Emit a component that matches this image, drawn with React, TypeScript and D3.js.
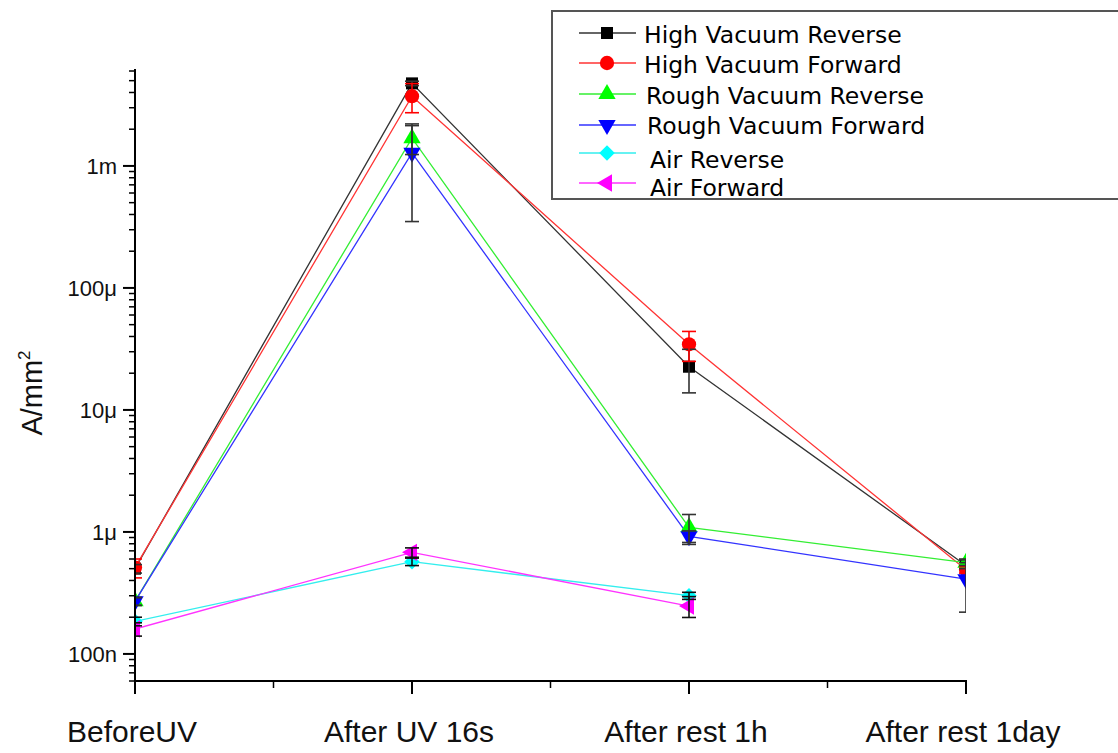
import React from 'react';
import * as d3 from 'd3';

const categories = ['BeforeUV', 'After UV 16s', 'After rest 1h', 'After rest 1day'];
const yTickValues = [1e-7, 1e-6, 1e-5, 1e-4, 1e-3];
const yTickLabels = ['100n', '1μ', '10μ', '100μ', '1m'];

const seriesNames = [
  'High Vacuum Reverse',
  'High Vacuum Forward',
  'Rough Vacuum Reverse',
  'Rough Vacuum Forward',
  'Air Reverse',
  'Air Forward',
];

const hvReverse = [5.0e-7, 4.75e-3, 2.26e-5, 5.3e-7];
const hvReverseErr = [0.4e-7, 0.2e-3, 0.88e-5, 0.3e-7];
const hvForward = [5.1e-7, 3.73e-3, 3.45e-5, 4.9e-7];
const hvForwardErr = [0.9e-7, 1.0e-3, 0.95e-5, 0.3e-7];
const rvReverse = [2.7e-7, 1.69e-3, 1.09e-6, 5.6e-7];
const rvReverseErr = [0.2e-7, 0.45e-3, 0.3e-6, 0.3e-7];
const rvForward = [2.7e-7, 1.28e-3, 9.2e-7, 4.1e-7];
const rvForwardErr = [0.2e-7, 0.93e-3, 0.1e-6, 1.9e-7];
const airReverse = [1.85e-7, 5.7e-7, 3.0e-7];
const airReverseErr = [0.15e-7, 0.4e-7, 0.2e-7];
const airForward = [1.6e-7, 6.8e-7, 2.47e-7];
const airForwardErr = [0.2e-7, 0.6e-7, 0.48e-7];

const seriesValues = [hvReverse, hvForward, rvReverse, rvForward, airReverse, airForward];
const seriesErrors = [hvReverseErr, hvForwardErr, rvReverseErr, rvForwardErr, airReverseErr, airForwardErr];
const seriesColors = ['#000000', '#ff0000', '#00ff00', '#0000ff', '#00ffff', '#ff00ff'];
const lineColors = ['#333333', '#ff3333', '#33ee33', '#3333ff', '#33eeee', '#ff33ff'];
const errColors = ['#333333', '#ff0000', '#333333', '#333333', '#111111', '#111111'];
const symbolKinds = ['square', 'circle', 'up', 'down', 'diamond', 'left'];

const W = 1118;
const H = 753;
const X0 = 135;
const X1 = 966;
const Y0 = 681;
const Y1 = 71;

const x = d3.scalePoint<string>().domain(categories).range([X0, X1]);
const y = d3.scaleLog().domain([6e-8, 6e-3]).range([Y0, Y1]);

function symbolPath(kind: string): { d: string; rot: number } {
  switch (kind) {
    case 'square':
      return { d: d3.symbol().type(d3.symbolSquare).size(144)() as string, rot: 0 };
    case 'circle':
      return { d: d3.symbol().type(d3.symbolCircle).size(160)() as string, rot: 0 };
    case 'up':
      return { d: d3.symbol().type(d3.symbolTriangle).size(130)() as string, rot: 0 };
    case 'down':
      return { d: d3.symbol().type(d3.symbolTriangle).size(130)() as string, rot: 180 };
    case 'diamond':
      return { d: d3.symbol().type(d3.symbolSquare).size(120)() as string, rot: 45 };
    case 'left':
    default:
      return { d: d3.symbol().type(d3.symbolTriangle).size(130)() as string, rot: -90 };
  }
}

function Marker({ kind, cx, cy, color }: { kind: string; cx: number; cy: number; color: string }) {
  const s = symbolPath(kind);
  return <path d={s.d} transform={`translate(${cx},${cy}) rotate(${s.rot})`} fill={color} stroke="none" />;
}

export default function App() {
  const line = d3
    .line<number>()
    .x((_, i) => x(categories[i]) as number)
    .y((v) => y(v));

  const minorY: number[] = [];
  for (let e = -8; e <= -3; e++) {
    for (let m = 2; m <= 9; m++) {
      const v = m * Math.pow(10, e);
      if (v >= 6e-8 && v <= 6e-3) minorY.push(v);
    }
  }
  const minorX = categories.slice(1).map((c, i) => ((x(categories[i]) as number) + (x(c) as number)) / 2);

  const legendRows = [33, 63, 94, 125, 153, 183];
  const legendBaselines = [43, 73, 104, 134, 168, 196];
  const legendTextX = [644, 644, 646, 647, 650, 650];

  return (
    <svg width={W} height={H} style={{ position: 'absolute', left: 0, top: 0, background: '#fff' }}>
      <defs>
        <clipPath id="plotclip">
          <rect x={X0} y={0} width={X1 - X0} height={H} />
        </clipPath>
      </defs>

      <g clipPath="url(#plotclip)">
        {seriesValues.map((vals, si) => (
          <path key={'l' + si} d={line(vals) as string} fill="none" stroke={lineColors[si]} strokeWidth={1.3} />
        ))}
        {seriesValues.map((vals, si) =>
          vals.map((v, i) => (
            <Marker key={'m' + si + '-' + i} kind={symbolKinds[si]} cx={x(categories[i]) as number} cy={y(v)} color={seriesColors[si]} />
          ))
        )}
        {seriesValues.map((vals, si) =>
          vals.map((v, i) => {
            const e = seriesErrors[si][i];
            const cx = x(categories[i]) as number;
            const yt = y(v + e);
            const yb = y(Math.max(v - e, 6.1e-8));
            return (
              <g key={'e' + si + '-' + i} stroke={errColors[si]} strokeWidth={1.6}>
                <line x1={cx} x2={cx} y1={yt} y2={yb} />
                <line x1={cx - 7} x2={cx + 7} y1={yt} y2={yt} />
                <line x1={cx - 7} x2={cx + 7} y1={yb} y2={yb} />
              </g>
            );
          })
        )}
      </g>

      <line x1={X0} x2={X0} y1={Y1 - 2} y2={Y0 + 1} stroke="#000" strokeWidth={2} />
      {minorY.map((v, i) => (
        <line key={'my' + i} x1={X0 - 6} x2={X0} y1={y(v)} y2={y(v)} stroke="#000" strokeWidth={1.5} />
      ))}
      {yTickValues.map((v, i) => (
        <g key={'ty' + i}>
          <line x1={X0 - 12} x2={X0} y1={y(v)} y2={y(v)} stroke="#000" strokeWidth={2} />
          <text x={117} y={y(v)} dy="0.36em" textAnchor="end" fontFamily="Liberation Sans, Arial, sans-serif" fontSize={22} fill="#111">
            {yTickLabels[i]}
          </text>
        </g>
      ))}
      <text
        transform="translate(42,393) rotate(-90)"
        textAnchor="middle"
        fontFamily="Liberation Sans, Arial, sans-serif"
        fontSize={29}
        fill="#111"
      >
        A/mm<tspan dy={-12} fontSize={17}>2</tspan>
      </text>

      <line x1={X0 - 1} x2={X1 + 1} y1={Y0} y2={Y0} stroke="#000" strokeWidth={2} />
      {categories.map((c, i) => (
        <g key={'tx' + i}>
          <line x1={x(c) as number} x2={x(c) as number} y1={Y0} y2={Y0 + 13} stroke="#000" strokeWidth={2} />
          <text x={(x(c) as number) - 3} y={742} textAnchor="middle" fontFamily="Liberation Sans, Arial, sans-serif" fontSize={30} fill="#111">
            {c}
          </text>
        </g>
      ))}
      {minorX.map((mx, i) => (
        <line key={'mx' + i} x1={mx} x2={mx} y1={Y0} y2={Y0 + 7} stroke="#000" strokeWidth={1.5} />
      ))}

      <rect x={552} y={11} width={600} height={188} fill="#fff" stroke="#555" strokeWidth={2} />
      {seriesNames.map((name, si) => (
        <g key={'lg' + si}>
          <line x1={579} x2={636} y1={legendRows[si]} y2={legendRows[si]} stroke={lineColors[si]} strokeWidth={1.3} />
          <Marker kind={symbolKinds[si]} cx={607} cy={legendRows[si]} color={seriesColors[si]} />
          <text x={legendTextX[si]} y={legendBaselines[si]} fontFamily="DejaVu Sans, sans-serif" fontSize={23.5} fill="#000">
            {name}
          </text>
        </g>
      ))}
    </svg>
  );
}
